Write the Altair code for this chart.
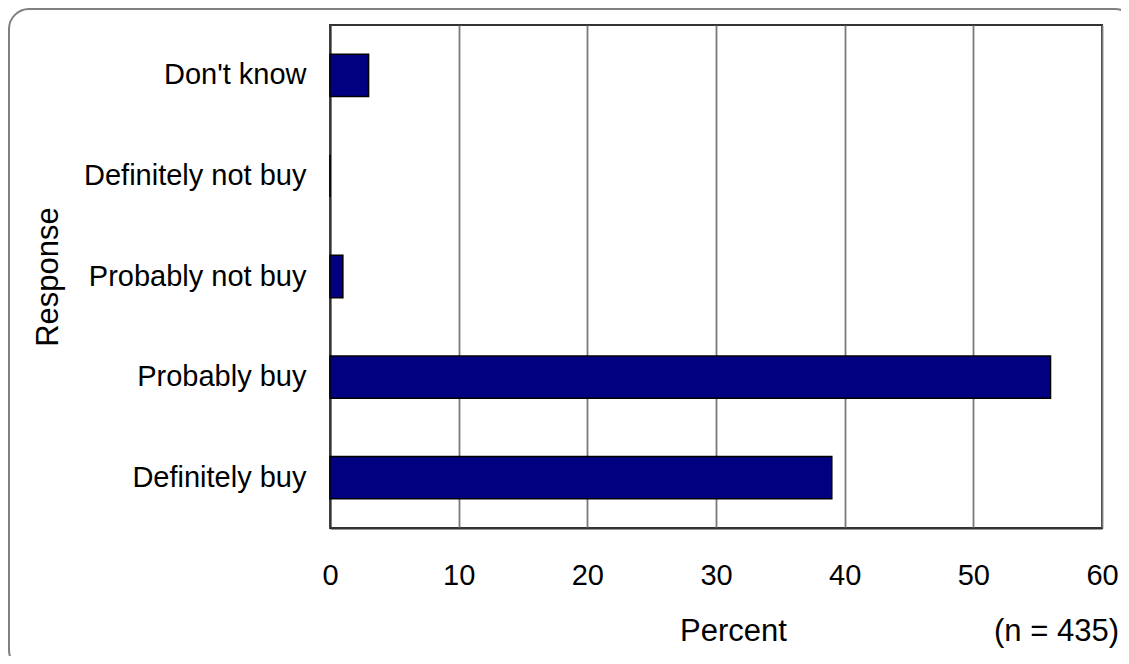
import altair as alt
import pandas as pd

categories = ["Don't know", "Definitely not buy", "Probably not buy", "Probably buy", "Definitely buy"]
percents = [3, 0, 1, 56, 39]
x_ticks = [0, 10, 20, 30, 40, 50, 60]
note_text = ["(n = 435)"]

df = pd.DataFrame({"Response": categories, "Percent": percents})
FONT = "Liberation Sans"

frame = alt.Chart(pd.DataFrame({"k": [0]})).mark_rect(
    fill="white", fillOpacity=0, stroke="#808080", strokeWidth=2, cornerRadius=20
).encode(
    x=alt.value(-321), x2=alt.value(805), y=alt.value(-16), y2=alt.value(645)
)

bars = alt.Chart(df).mark_bar(
    color="#000080", stroke="#000000", strokeWidth=1.5
).encode(
    x=alt.X("Percent:Q",
            scale=alt.Scale(domain=[0, 60], nice=False),
            axis=alt.Axis(values=x_ticks, ticks=False, labelPadding=33, labelFontSize=29,
                          labelFlush=False, labelOverlap=False,
                          labelFont=FONT, labelColor="#000000", grid=True, gridColor="#7a7a7a",
                          gridWidth=1.8, domainColor="#333333", domainWidth=2,
                          title="Percent", titleFont=FONT, titleFontSize=31, titleFontWeight="normal",
                          titleColor="#000000", titleX=403, titleY=103, titleBaseline="middle",
                          titleAlign="center")),
    y=alt.Y("Response:N", sort=categories,
            scale=alt.Scale(paddingInner=0.58, paddingOuter=0.29),
            axis=alt.Axis(ticks=False, labelPadding=24, labelFontSize=29, labelFont=FONT,
                          labelColor="#000000", labelLimit=400, grid=False,
                          domainColor="#333333", domainWidth=2,
                          title="Response", titleFont=FONT, titleFontSize=31, titleFontWeight="normal",
                          titleColor="#000000", titleAngle=270, titleX=-282, titleY=251.5,
                          titleBaseline="middle", titleAlign="center"))
)

note = alt.Chart(pd.DataFrame({"t": note_text})).mark_text(
    align="right", baseline="middle", fontSize=31, font=FONT, color="#000000"
).encode(
    text="t:N", x=alt.value(789), y=alt.value(607)
)

chart = alt.layer(frame, bars, note).properties(
    width=772, height=503,
    autosize=alt.AutoSizeParams(type="none"),
    padding={"left": 322, "top": 17, "right": 19, "bottom": 128},
    background="white"
).configure_view(
    stroke="#333333", strokeWidth=2
)

chart.save("out.html", embed_options={"renderer": "svg", "actions": False})
